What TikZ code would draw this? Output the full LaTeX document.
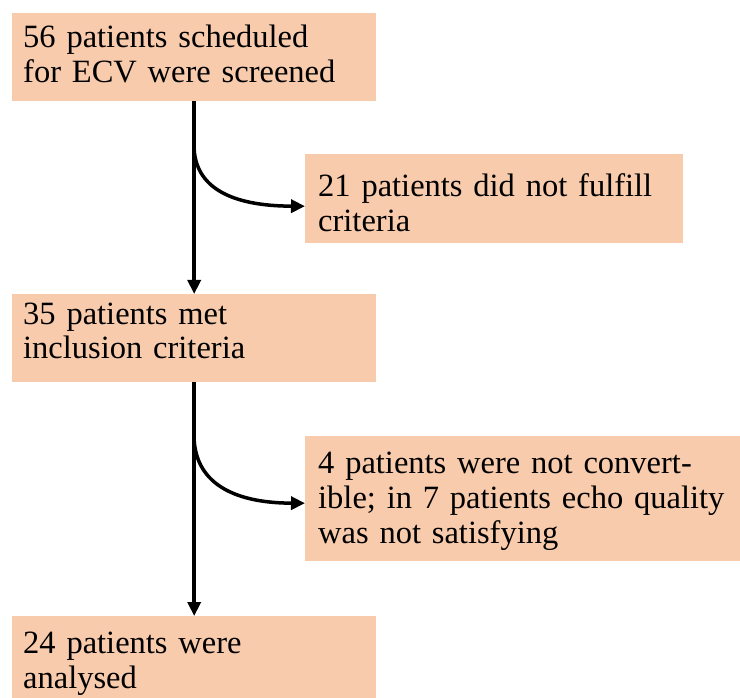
\documentclass[tikz,border=0pt]{standalone}
\usepackage{fontspec}
\setmainfont{Liberation Serif}
\usetikzlibrary{arrows.meta}
\definecolor{peach}{HTML}{F8CBAD}
\begin{document}
\begin{tikzpicture}[x=1pt,y=-1pt,
  box/.style={fill=peach, draw=none, inner sep=0pt, anchor=north west},
  txt/.style={inner sep=0pt, anchor=base west, align=left, text width=430pt,
    font=\fontsize{32.5}{35}\selectfont},
  flow/.style={line width=3.5pt, -{Triangle[length=14pt,width=13pt]}},
  ]
\useasboundingbox (0,0) rectangle (740,698);
% boxes
\node[box, minimum width=364pt, minimum height=88pt] (b1) at (12,13) {};
\node[box, minimum width=378pt, minimum height=89pt] (b2) at (305,154) {};
\node[box, minimum width=364pt, minimum height=88pt] (b3) at (12,294) {};
\node[box, minimum width=435pt, minimum height=125pt] (b4) at (305,436) {};
\node[box, minimum width=364pt, minimum height=82pt] (b5) at (12,616) {};
% texts
\node[txt] (t1) at (23,48) {56 patients scheduled\\for ECV were screened};
\node[txt] (t2) at (318,197) {21 patients did not fulfill\\criteria};
\node[txt] (t3) at (23,324) {35 patients met\\inclusion criteria};
\node[txt] (t4) at (318,473) {4 patients were not convert-\\ible; in 7 patients echo quality\\was not satisfying};
\node[txt] (t5) at (23,653) {24 patients were\\analysed};
% connectors
\draw[flow] (b1.south) -- (b3.north);
\draw[flow] (b3.south) -- (b5.north);
\coordinate (c1) at (194,145);
\coordinate (c2) at (194,435);
\draw[flow] (c1) .. controls (194,188) and (232,206) .. ([yshift=-7.5pt]b2.west);
\draw[flow] (c2) .. controls (194,482) and (232,503) .. ([yshift=-4.5pt]b4.west);
\end{tikzpicture}
\end{document}
